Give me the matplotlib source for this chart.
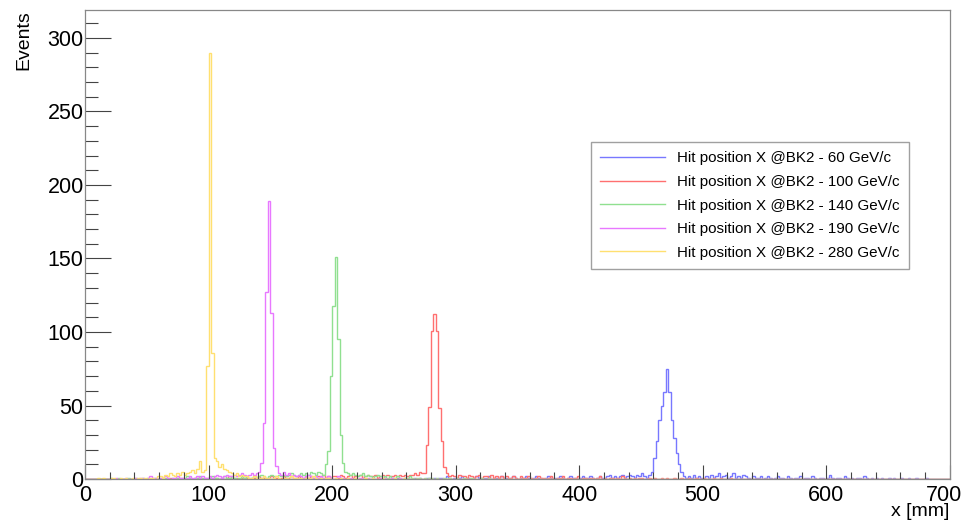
import numpy as np
import matplotlib

matplotlib.use("Agg")
import matplotlib.pyplot as plt
from matplotlib.ticker import MultipleLocator, FuncFormatter
from matplotlib.transforms import ScaledTranslation

plt.rcParams["font.family"] = ["Liberation Sans", "DejaVu Sans"]

BIN_WIDTH = 2  # mm
X_MAX = 700

LABELS = [
    "Hit position X @BK2 - 60 GeV/c",
    "Hit position X @BK2 - 100 GeV/c",
    "Hit position X @BK2 - 140 GeV/c",
    "Hit position X @BK2 - 190 GeV/c",
    "Hit position X @BK2 - 280 GeV/c",
]
COLORS = ["#7878ff", "#ff7070", "#90e090", "#e878ff", "#ffe070"]

# counts per 2 mm bin, starting at the given edge (mm)
start_60 = 240
counts_60 = [
    0, 1, 0, 0, 1, 0, 1, 0, 0, 1, 1, 0, 0, 1, 0, 1, 0, 0, 1, 1,
    0, 1, 0, 1, 1, 0, 2, 1, 0, 1, 0, 1, 2, 0, 1, 1, 0, 1, 2, 1,
    0, 1, 1, 2, 0, 1, 1, 0, 2, 1, 1, 0, 1, 2, 1, 0, 1, 1, 2, 1,
    0, 1, 2, 1, 1, 0, 1, 2, 1, 0, 1, 1, 2, 1, 0, 1, 2, 1, 1, 0,
    1, 2, 1, 1, 2, 1, 0, 1, 2, 1, 1, 2, 3, 1, 2, 1, 2, 3, 1, 2,
    3, 2, 1, 3, 2, 4, 2, 1,
    3, 5, 14, 26, 40, 50, 59, 75, 59, 40, 28, 18, 10, 5, 2,
    1, 2, 1, 3, 1, 2, 1, 0, 2, 1, 3, 1, 2, 4, 1, 2, 3, 1, 2, 4,
    1, 2, 1, 3, 2, 1, 0, 2, 1, 1, 2, 0, 1, 2, 1, 0, 1, 2, 1, 1,
    0, 2, 1, 0, 1, 1, 2, 0, 1, 1, 0, 2, 1, 0, 1, 1, 0, 1, 3, 1,
    0, 1, 1, 0, 2, 1, 0, 1, 0, 1, 1, 0, 2, 1, 0, 1, 0, 1, 0, 1,
    0, 0, 1, 0, 1, 0, 0, 1, 0, 0, 1, 0, 0, 1, 0, 0, 0, 1,
]

start_100 = 60
counts_100 = [
    0, 1, 0, 0, 1, 0, 0, 1, 0, 1, 0, 0, 1, 0, 1, 1, 0, 0, 1, 0,
    1, 0, 1, 1, 0, 1, 0, 1, 2, 0, 1, 1, 0, 1, 2, 1, 0, 1, 1, 0,
    2, 1, 1, 0, 1, 2, 1, 1, 0, 1, 2, 1, 1, 2, 0, 1, 2, 1, 1, 2,
    1, 2, 1, 1, 2, 1, 3, 1, 2, 1, 2, 2, 1, 3, 2, 1, 2, 3, 1, 2,
    2, 3, 1, 2, 3, 2, 2, 3, 1, 2, 3, 2, 3, 2, 2, 3, 2, 3, 2, 3,
    2, 3,
    3, 4, 3, 5, 4,
    4, 23, 49, 101, 112, 101, 48, 26, 8, 4, 2,
    3, 2, 1, 3, 2, 2, 1, 3, 2, 1, 2, 3, 1, 2, 2, 1, 3, 1, 2, 1,
    2, 1, 2, 1, 1, 2, 1, 0, 2, 1, 1, 2, 1, 0, 1, 2, 1, 1, 0, 1,
    2, 1, 0, 1, 1, 2, 0, 1, 1, 0, 1, 2, 0, 1, 1, 0, 1, 1, 0, 1,
    2, 0, 1, 0, 1, 1, 0, 1, 0, 2, 1, 0, 1, 0, 1, 0, 1, 1, 0, 0,
    1, 0, 1, 0, 0, 1, 0, 1, 0, 0, 1, 0, 0, 1, 0, 0, 1, 0, 0, 1,
    0, 0, 1, 0, 0, 0, 1, 0, 0, 1, 0, 0, 0, 1,
]

start_140 = 20
counts_140 = [
    1, 0, 0, 1, 0, 0, 0, 1, 0, 0, 1, 0, 0, 1, 0, 1, 0, 0, 1, 0,
    1, 0, 1, 1, 0, 1, 0, 1, 1, 0, 1, 2, 1, 0, 1, 1, 2, 1, 0, 1,
    1, 2, 1, 1, 0, 1, 2, 1, 1, 2, 1, 0, 1, 2, 1, 2, 1, 1, 2, 1,
    2, 3, 2, 1, 2, 3, 2, 2, 3, 2, 3, 2, 3, 4, 3, 2, 3, 4, 3, 4,
    3, 5, 4, 3, 5, 4, 3,
    10, 19, 70, 118, 151, 95, 30, 11, 5,
    4, 3, 4, 3, 2, 3, 4, 2, 3, 2, 1, 2, 3, 2, 1, 2, 1, 2, 1, 1,
    2, 1, 0, 1, 1, 2, 1, 0, 1, 1, 0, 1, 0, 1, 1, 0, 1, 0, 0, 1,
    0, 1, 0, 0, 1, 0, 0, 1, 0, 0, 1, 0, 0, 0, 1, 0, 0, 1,
]

start_190 = 20
counts_190 = [
    0, 0, 1, 0, 0, 0, 1, 0, 0, 0, 1, 0, 1, 1, 0, 1, 2, 1, 1, 0,
    1, 1, 2, 1, 0, 1, 1, 2, 1, 1, 0, 1, 2, 1, 1, 2, 1, 2, 1, 1,
    2, 1, 2, 3, 2, 1, 2, 3, 2, 2, 3, 2, 3, 4, 3, 2, 3, 4, 3,
    4, 5, 11, 38, 127, 189, 113, 21, 9, 4, 3, 5,
    3, 4, 2, 3, 2, 3, 2, 1, 2, 3, 2, 1, 2, 1, 2, 1, 1, 2, 1, 0,
    1, 2, 1, 1, 0, 1, 1, 0, 1, 0, 1, 1, 0, 1, 0, 1, 0, 0, 1, 0,
    1, 0, 0, 1, 0, 0, 1, 0, 0,
]

start_280 = 10
counts_280 = [
    1, 0, 1, 0, 0, 1, 1, 0, 0, 1, 0, 1, 0, 0, 1, 0, 1, 1, 0, 1,
    0, 1, 1, 0, 2,
    2, 1, 3, 2, 4, 3, 2, 4, 3, 5, 3, 4, 5, 6, 4,
    7, 12, 5, 6, 77, 290, 86, 14, 12, 8, 10, 7, 6, 5, 4, 3, 4, 2, 3, 2,
    2, 1, 1, 2, 1, 0, 1, 2, 1, 1, 0, 1, 2, 1, 0, 1, 1, 0, 2, 1,
    1, 0, 1, 0, 1, 1, 0, 2, 1, 0, 1, 0, 1, 1, 0, 0, 1, 0, 1, 0,
    0, 1, 0, 0, 1, 0, 0, 0, 1, 0, 0, 1, 0, 0, 0, 1, 0, 0, 0, 0,
    1, 0, 0, 0, 1,
]

STARTS = [start_60, start_100, start_140, start_190, start_280]
COUNTS = [counts_60, counts_100, counts_140, counts_190, counts_280]


def full_hist(start, counts, edges):
    h = np.zeros(len(edges) - 1)
    i0 = int(start // BIN_WIDTH)
    h[i0:i0 + len(counts)] = counts
    return h


def main():
    edges = np.arange(0, X_MAX + BIN_WIDTH, BIN_WIDTH)

    fig = plt.figure(figsize=(9.63, 5.2), dpi=100)
    ax = fig.add_axes([0.0883, 0.0788, 0.898, 0.902])

    for start, counts, color, label in zip(STARTS, COUNTS, COLORS, LABELS):
        h = full_hist(start, counts, edges)
        ax.stairs(h, edges, color=color, linewidth=1.0, label=label)

    ax.set_xlim(0, X_MAX)
    ax.set_ylim(0, 319)

    ax.xaxis.set_major_locator(MultipleLocator(100))
    ax.xaxis.set_minor_locator(MultipleLocator(20))
    ax.yaxis.set_major_locator(MultipleLocator(50))
    ax.yaxis.set_minor_locator(MultipleLocator(10))

    # last x label is drawn separately so it can sit a bit to the left
    ax.xaxis.set_major_formatter(
        FuncFormatter(lambda v, p: "" if v >= X_MAX else f"{v:.0f}"))

    ax.tick_params(axis="y", which="major", direction="in", length=18.5,
                   width=0.8, color="#444444", labelsize=15.5, pad=1)
    ax.tick_params(axis="y", which="minor", direction="in", length=9.3,
                   width=0.8, color="#444444")
    ax.tick_params(axis="x", which="major", direction="in", length=10,
                   width=0.8, color="#444444", labelsize=15.5, pad=4)
    ax.tick_params(axis="x", which="minor", direction="in", length=5,
                   width=0.8, color="#444444")

    shift = ScaledTranslation(-4 / 72, -4 / 72, fig.dpi_scale_trans)
    ax.text(X_MAX, 0, f"{X_MAX}", fontsize=15.5, ha="center", va="top",
            transform=ax.get_xaxis_transform() + shift)

    for side in ["top", "right", "left", "bottom"]:
        ax.spines[side].set_color("#888888")
        ax.spines[side].set_linewidth(0.9)

    ax.set_ylabel("Events", fontsize=14, loc="top", labelpad=11)
    ax.set_xlabel("x [mm]", fontsize=14, loc="right", labelpad=-1.5)

    leg = ax.legend(loc="center", bbox_to_anchor=(0.769, 0.583),
                    fontsize=10.9, frameon=True, fancybox=False,
                    edgecolor="#888888", handlelength=4.3, labelspacing=0.63,
                    borderpad=0.6, handletextpad=0.8)
    leg.get_frame().set_linewidth(1.0)

    fig.savefig("out.png", dpi=100)


if __name__ == "__main__":
    main()
